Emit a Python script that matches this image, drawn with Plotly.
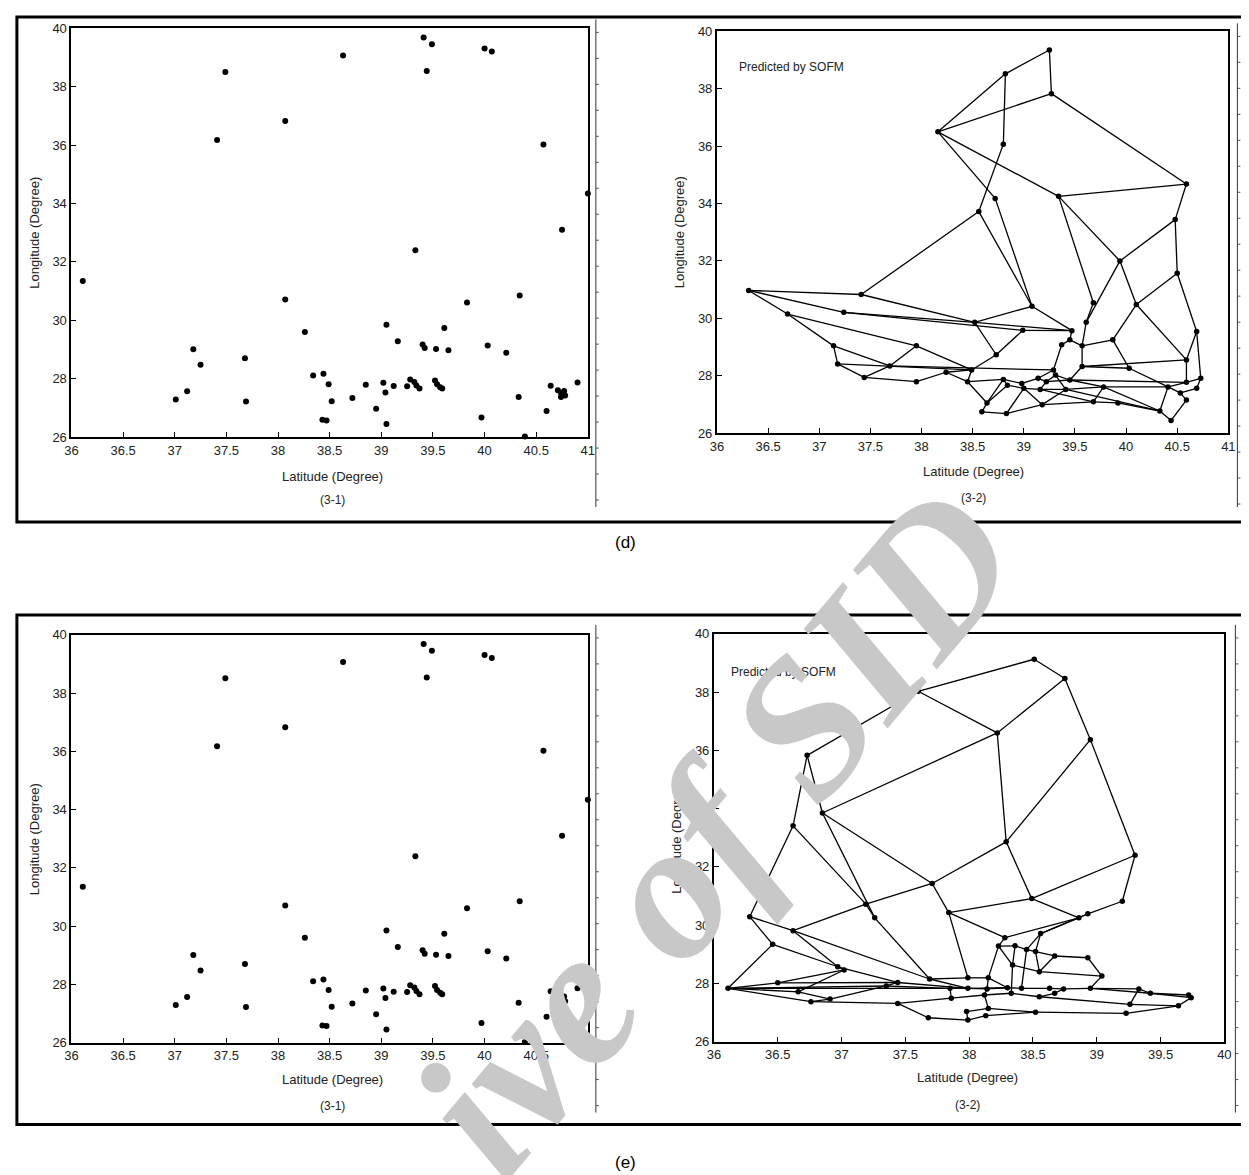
import plotly.graph_objects as go

W, H = 1249, 1175
# measured mapping of figure pixels onto the captured picture: pic = OFS + SCL * fig
OFS, SCL = 14.6, 0.988

# ---------------- observed stations (3-1) ----------------
obs_lat = [37.49, 37.41, 38.07, 38.63, 39.41, 39.49, 39.44, 40.00, 40.07, 40.57, 40.75, 41.00, 39.33,
           36.11, 38.07, 38.26, 39.05, 39.16, 39.40, 39.42, 39.53, 39.61, 39.65, 39.83, 40.03, 40.21, 40.34,
           37.18, 37.25, 37.68, 37.01, 37.12, 37.69, 38.34, 38.44, 38.49, 38.52, 38.43, 38.47, 38.72, 38.85,
           38.95, 39.02, 39.04, 39.12, 39.05, 39.25, 39.28, 39.32, 39.34, 39.37, 39.52, 39.54, 39.57, 39.59,
           39.97, 40.33, 40.39, 40.60, 40.64, 40.71, 40.74, 40.77, 40.74, 40.78, 40.90]
obs_lon = [38.51, 36.18, 36.83, 39.07, 39.69, 39.46, 38.54, 39.31, 39.21, 36.02, 33.10, 34.34, 32.40,
           31.35, 30.71, 29.60, 29.85, 29.28, 29.17, 29.05, 29.02, 29.74, 28.97, 30.61, 29.14, 28.89, 30.85,
           29.01, 28.48, 28.70, 27.29, 27.57, 27.22, 28.11, 28.17, 27.81, 27.23, 26.59, 26.57, 27.34, 27.79,
           26.97, 27.86, 27.53, 27.75, 26.45, 27.74, 27.97, 27.89, 27.77, 27.66, 27.94, 27.81, 27.71, 27.66,
           26.67, 27.37, 26.02, 26.89, 27.76, 27.60, 27.51, 27.58, 27.37, 27.42, 27.87]

# ---------------- SOFM network, panel (d) ----------------
d_lat = [39.25, 38.82, 39.27, 38.16, 38.80, 40.59, 39.34, 38.72, 38.56, 40.48,
         39.94, 40.50, 36.31, 37.41, 39.08, 39.68, 40.10, 36.69, 37.24, 38.52,
         39.61, 38.99, 39.47, 40.69, 39.45, 39.87, 39.37, 39.57, 37.14, 37.95,
         38.73, 37.18, 37.69, 39.57, 40.03, 40.59, 38.24, 38.49, 37.44, 37.95,
         38.45, 39.29, 39.31, 40.73, 40.59, 40.69, 40.41, 40.53, 40.59, 39.78,
         39.41, 39.16, 39.45, 39.22, 38.80, 38.84, 38.98, 39.00, 39.14, 38.64,
         38.59, 38.83, 39.18, 39.68, 39.92, 40.33, 40.44]
d_lon = [39.35, 38.52, 37.83, 36.50, 36.07, 34.68, 34.25, 34.18, 33.72, 33.44,
         32.00, 31.57, 30.97, 30.83, 30.42, 30.54, 30.48, 30.15, 30.21, 29.86,
         29.86, 29.58, 29.57, 29.54, 29.25, 29.25, 29.08, 29.04, 29.04, 29.04,
         28.73, 28.41, 28.34, 28.32, 28.26, 28.55, 28.12, 28.20, 27.94, 27.79,
         27.79, 28.20, 28.02, 27.91, 27.77, 27.56, 27.61, 27.40, 27.15, 27.61,
         27.52, 27.52, 27.85, 27.79, 27.87, 27.67, 27.73, 27.56, 27.91, 27.05,
         26.74, 26.68, 26.99, 27.09, 27.05, 26.77, 26.44]
d_links = [(0, 1), (0, 2), (1, 3), (2, 3), (1, 4), (2, 5), (3, 6), (3, 7), (4, 8), (5, 6),
           (5, 9), (9, 10), (6, 10), (6, 15), (7, 14), (8, 14), (8, 13), (9, 11), (10, 16), (10, 20),
           (11, 16), (11, 23), (16, 25), (16, 35), (23, 35), (23, 43), (15, 20), (14, 19), (14, 22),
           (12, 13), (12, 17), (12, 18), (13, 19), (18, 19), (18, 21), (21, 22), (19, 22), (19, 30), (21, 30),
           (17, 28), (17, 29), (28, 31), (28, 32), (31, 38), (29, 32), (32, 38), (38, 39), (39, 36), (36, 37),
           (29, 37), (32, 41), (31, 37), (30, 37), (37, 40), (40, 54), (54, 56), (56, 58), (58, 53), (53, 42),
           (42, 52), (41, 42), (41, 26), (26, 24), (24, 22), (24, 27), (27, 33), (33, 34), (33, 52), (27, 20),
           (27, 25), (25, 34), (34, 46), (33, 35), (35, 44), (43, 44), (44, 46), (46, 47), (47, 48), (45, 47),
           (43, 45), (49, 46), (49, 50), (50, 51), (51, 57), (52, 49), (52, 44), (59, 60), (60, 61), (61, 62),
           (62, 63), (63, 64), (64, 65), (65, 66), (66, 48), (59, 55), (61, 57), (62, 50), (63, 49), (54, 55),
           (55, 57), (56, 57), (40, 59), (49, 65), (50, 65), (42, 50), (58, 41), (46, 65), (53, 51),
           (36, 40), (54, 59), (57, 62), (51, 63), (53, 52)]

# ---------------- SOFM network, panel (e) ----------------
e_lat = [38.51, 38.75, 37.60, 38.22, 38.95, 36.73, 36.85, 36.62, 38.29, 39.30,
         37.71, 37.19, 38.49, 39.20, 37.26, 37.84, 36.62, 36.28, 36.46, 38.93,
         38.86, 38.28, 38.56, 38.23, 38.36, 38.45, 38.52, 38.67, 38.93, 38.55,
         39.04, 38.34, 36.97, 37.02, 37.69, 37.99, 38.15, 36.11, 36.50, 36.66,
         36.76, 36.91, 37.35, 37.44, 37.44, 37.85, 37.86, 37.99, 38.14, 38.12,
         38.15, 38.13, 38.30, 38.33, 38.41, 38.55, 38.63, 38.67, 38.74, 38.95,
         39.33, 39.42, 39.26, 39.23, 39.64, 39.72, 39.74, 38.52, 37.98, 37.99,
         37.68]
e_lon = [39.13, 38.47, 38.03, 36.60, 36.37, 35.83, 33.85, 33.41, 32.86, 32.40,
         31.43, 30.72, 30.91, 30.82, 30.25, 30.43, 29.81, 30.29, 29.34, 30.39,
         30.25, 29.57, 29.71, 29.28, 29.29, 29.16, 29.09, 28.94, 28.88, 28.40,
         28.25, 28.63, 28.57, 28.46, 28.15, 28.19, 28.19, 27.83, 28.02, 27.71,
         27.37, 27.46, 27.91, 28.03, 27.31, 27.83, 27.49, 27.83, 27.81, 27.60,
         27.14, 26.89, 27.85, 27.66, 27.83, 27.54, 27.83, 27.66, 27.81, 27.83,
         27.81, 27.66, 27.28, 26.97, 27.23, 27.60, 27.51, 27.01, 27.03, 26.74,
         26.82]
e_links = [(0, 1), (0, 2), (2, 3), (1, 3), (1, 4), (2, 5), (3, 6), (3, 8), (4, 8), (4, 9),
           (5, 7), (5, 6), (6, 10), (6, 14), (7, 17), (7, 11), (8, 10), (8, 12), (9, 13), (9, 12),
           (10, 11), (10, 15), (11, 16), (11, 14), (12, 15), (12, 20), (13, 19), (19, 20), (15, 21), (20, 21),
           (20, 22), (19, 22), (21, 23), (23, 24), (22, 25), (22, 26), (24, 25), (25, 26), (23, 31), (23, 36),
           (24, 31), (25, 54), (26, 29), (26, 27), (27, 28), (27, 29), (28, 30), (29, 30), (30, 59), (17, 18),
           (17, 16), (16, 32), (16, 34), (18, 32), (18, 37), (14, 34), (15, 35), (32, 33), (33, 38), (33, 39),
           (37, 38), (37, 39), (37, 40), (37, 42), (38, 43), (39, 41), (40, 41), (40, 44), (41, 42), (42, 43),
           (42, 45), (43, 47), (44, 46), (44, 70), (70, 69), (69, 68), (69, 51), (45, 46), (45, 47), (46, 49),
           (47, 48), (48, 52), (49, 53), (50, 67), (51, 67), (52, 54), (53, 55), (54, 56), (56, 58), (58, 59),
           (59, 60), (60, 61), (61, 65), (62, 64), (63, 64), (63, 67), (64, 66), (62, 55), (65, 66), (55, 57),
           (57, 58), (34, 35), (35, 36), (36, 48), (31, 53), (34, 47), (68, 50), (49, 50), (60, 62), (61, 66),
           (29, 31), (36, 52), (48, 49), (32, 43), (37, 45), (47, 52), (59, 61)]

TICK_FONT = dict(family="Liberation Sans, Arial, sans-serif", size=13, color="#222")


def px(x):
    return (x - OFS) / SCL / W


def py(y):
    return 1 - (y - OFS) / SCL / H


fig = go.Figure()

for xa, ya in [("x", "y"), ("x3", "y3")]:
    fig.add_trace(go.Scatter(x=obs_lat, y=obs_lon, mode="markers", xaxis=xa, yaxis=ya,
                             marker=dict(color="black", size=6), cliponaxis=False,
                             showlegend=False, hoverinfo="skip"))


def add_network(lat, lon, links, xa, ya):
    lx, ly = [], []
    for a, b in links:
        lx += [lat[a], lat[b], None]
        ly += [lon[a], lon[b], None]
    fig.add_trace(go.Scatter(x=lx, y=ly, mode="lines", xaxis=xa, yaxis=ya,
                             line=dict(color="black", width=1.3), showlegend=False,
                             hoverinfo="skip"))
    fig.add_trace(go.Scatter(x=lat, y=lon, mode="markers", xaxis=xa, yaxis=ya,
                             marker=dict(color="black", size=5.5), showlegend=False,
                             hoverinfo="skip"))


add_network(d_lat, d_lon, d_links, "x2", "y2")
add_network(e_lat, e_lon, e_links, "x4", "y4")

axis_common = dict(showline=True, mirror=True, linecolor="black", linewidth=2,
                   ticks="inside", ticklen=5, tickwidth=1.3, tickcolor="black",
                   showgrid=False, zeroline=False, tickfont=TICK_FONT, fixedrange=True)

panels = {
    "": dict(xd=[71, 587], yd=[437, 28], xr=[36, 41]),
    "2": dict(xd=[716, 1227], yd=[433, 31], xr=[36, 41]),
    "3": dict(xd=[71, 587], yd=[1043, 635], xr=[36, 41]),
    "4": dict(xd=[713, 1223], yd=[1042, 634], xr=[36, 40]),
}
lay = {}
for k, p in panels.items():
    lay["xaxis" + k] = dict(axis_common, domain=[px(p["xd"][0]), px(p["xd"][1])], range=p["xr"],
                            tickmode="linear", tick0=36, dtick=0.5, anchor="y" + k)
    lay["yaxis" + k] = dict(axis_common, domain=[py(p["yd"][0]), py(p["yd"][1])], range=[26, 40],
                            tickmode="linear", tick0=26, dtick=2, anchor="x" + k)

TXT = dict(family="Liberation Sans, Arial, sans-serif", size=13, color="#222")
ann = []


def text(x, y, s, size=13, angle=0, xanchor="center", **kw):
    f = dict(TXT, size=size)
    f.update(kw)
    ann.append(dict(x=px(x), y=py(y), xref="paper", yref="paper", text=s, showarrow=False,
                    font=f, textangle=angle, xanchor=xanchor, yanchor="middle"))


text(332, 476, "Latitude (Degree)")
text(332, 500, "(3-1)", 12)
text(972, 471, "Latitude (Degree)")
text(972, 498, "(3-2)", 12)
text(332, 1080, "Latitude (Degree)")
text(332, 1106, "(3-1)", 12)
text(966, 1078, "Latitude (Degree)")
text(966, 1105, "(3-2)", 12)
text(34, 232, "Longitude (Degree)", angle=-90)
text(678, 232, "Longitude (Degree)", angle=-90)
text(34, 839, "Longitude (Degree)", angle=-90)
text(676, 838, "Longitude (Degree)", angle=-90)
text(736, 67, "Predicted by SOFM", 12, xanchor="left")
text(728, 672, "Predicted by SOFM", 12, xanchor="left")
text(625, 543, "(d)", 17, color="black")
text(625, 1163, "(e)", 17, color="black")

# watermark (only the part that lies inside the page is visible in the reference)
ann.append(dict(x=px(715), y=py(830), xref="paper", yref="paper", text="ive of SID",
                showarrow=False, textangle=-50, xanchor="center", yanchor="middle",
                font=dict(family="Liberation Serif, Times New Roman, serif", size=196,
                          color="#c8c8c8", weight="bold", style="italic")))

shapes = []
for top, bot in [(16.5, 522), (615, 1125)]:
    shapes.append(dict(type="rect", xref="paper", yref="paper", x0=px(16.5), x1=px(1275),
                       y0=py(bot), y1=py(top), line=dict(color="black", width=3)))
for xr, y0, y1 in [(595, 19, 507), (1236, 23, 507), (595, 625, 1113), (1234, 625, 1113)]:
    shapes.append(dict(type="line", xref="paper", yref="paper", x0=px(xr), x1=px(xr),
                       y0=py(y0), y1=py(y1), line=dict(color="#333", width=1)))
    yy = y0 + 13
    while yy < y1:
        shapes.append(dict(type="line", xref="paper", yref="paper", x0=px(xr), x1=px(xr + 3),
                           y0=py(yy), y1=py(yy), line=dict(color="#555", width=1)))
        yy += 26

fig.update_layout(width=W, height=H, margin=dict(l=0, r=0, t=0, b=0),
                  paper_bgcolor="white", plot_bgcolor="white",
                  annotations=ann, shapes=shapes, **lay)

fig.write_html("out.html")
